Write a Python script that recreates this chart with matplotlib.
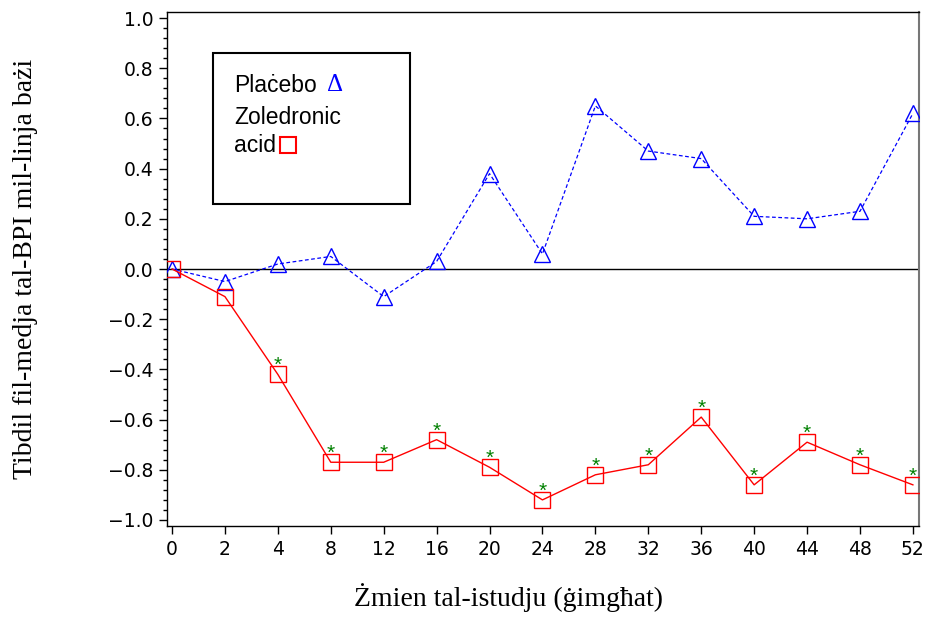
import matplotlib
matplotlib.use("Agg")
import matplotlib.pyplot as plt
from matplotlib.ticker import MultipleLocator
from matplotlib.patches import Rectangle

# weeks on study (categorical, equally spaced)
weeks = ["0", "2", "4", "8", "12", "16", "20", "24", "28", "32", "36", "40", "44", "48", "52"]
placebo = [0.0, -0.05, 0.02, 0.05, -0.11, 0.03, 0.38, 0.06, 0.65, 0.47, 0.44, 0.21, 0.20, 0.23, 0.62]
zoledronic = [0.0, -0.11, -0.42, -0.77, -0.77, -0.68, -0.79, -0.92, -0.82, -0.78, -0.59, -0.86, -0.69, -0.78, -0.86]
significant = [False, False, True, True, True, True, True, True, True, True, True, True, True, True, True]

x = list(range(len(weeks)))

fig = plt.figure(figsize=(9.28, 6.17), dpi=100)
ax = fig.add_axes([0.18, 0.1475, 0.81, 0.833])

ax.axhline(0, color="black", lw=1.0, zorder=1)

ax.plot(x, placebo, color="blue", ls=(0, (3, 2)), lw=0.9, marker="^", ms=11,
        mfc="none", mec="blue", mew=1.0, zorder=3)
ax.plot(x, zoledronic, color="red", ls="-", lw=1.0, marker="s", ms=12,
        mfc="none", mec="red", mew=1.0, zorder=3)

for xi, yi, sig in zip(x, zoledronic, significant):
    if sig:
        ax.text(xi, yi + 0.035, "*", color="green", ha="center", va="center",
                fontsize=15, family="Liberation Sans")

ax.set_xlim(-0.094, 14.11)
ax.set_ylim(-1.024, 1.024)
ax.set_xticks(x)
ax.set_xticklabels(weeks)
ax.yaxis.set_major_locator(MultipleLocator(0.2))
ax.yaxis.set_minor_locator(MultipleLocator(0.04))
ax.set_yticklabels([f"{v:.1f}".replace("-", "\u2212") for v in ax.get_yticks()])

for lab in ax.get_xticklabels() + ax.get_yticklabels():
    lab.set_family("DejaVu Sans")
    lab.set_fontsize(13.5)
ax.tick_params(axis="both", which="major", length=6, width=1, direction="out", pad=4)
ax.tick_params(axis="y", which="minor", length=3, width=1, direction="out")

for s in ax.spines.values():
    s.set_linewidth(1.0)
ax.spines["right"].set_color("#777777")
ax.spines["right"].set_linewidth(1.5)

ax.set_ylabel("Tibdil fil-medja tal-BPI mil-linja bażi", family="Liberation Serif",
              fontsize=20)
ax.yaxis.set_label_coords(-0.172, 0.5)
ax.set_xlabel("Żmien tal-istudju (ġimgħat)", family="Liberation Serif", fontsize=20)
ax.xaxis.set_label_coords(0.454, -0.112)

# legend box drawn by hand like the original
box = Rectangle((213 / 928, 1 - 204 / 617), (410 - 213) / 928, (204 - 53) / 617,
                transform=fig.transFigure, fill=False, ec="black", lw=1.5, zorder=5)
fig.patches.append(box)
fig.text(234 / 928, 1 - 85 / 617, "Plaċebo", family="Liberation Sans", fontsize=16.5, va="center")
fig.text(327 / 928, 1 - 85 / 617, "\u0394", family="Liberation Serif", fontsize=18,
         color="blue", va="center")
fig.text(234 / 928, 1 - 117 / 617, "Zoledronic", family="Liberation Sans", fontsize=16.5, va="center")
fig.text(234 / 928, 1 - 146 / 617, "acid", family="Liberation Sans", fontsize=16.5, va="center")
sq = Rectangle((280 / 928, 1 - 153 / 617), 16 / 928, 16 / 617,
               transform=fig.transFigure, fill=False, ec="red", lw=1.5, zorder=5)
fig.patches.append(sq)

fig.savefig("out.png", dpi=100)
